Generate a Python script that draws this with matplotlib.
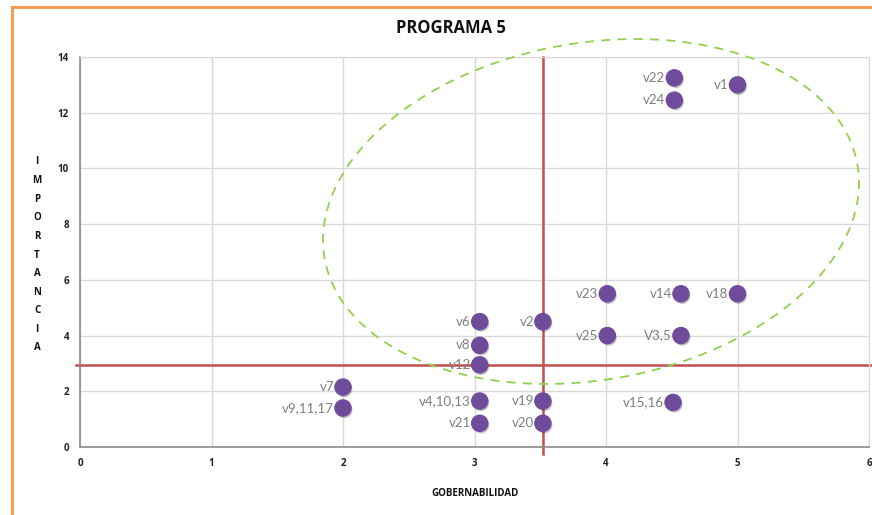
import matplotlib
matplotlib.use("Agg")
import matplotlib.pyplot as plt
import matplotlib.patheffects as pe
from matplotlib.patches import Ellipse
from matplotlib.lines import Line2D

# data
labels = ["v22", "v24", "v1", "v23", "v14", "v18", "v25", "V3,5", "v15,16",
          "v6", "v8", "v12", "v2", "v7", "v9,11,17", "v4,10,13", "v21", "v19", "v20"]
gobernabilidad = [4.52, 4.52, 5.0, 4.01, 4.57, 5.0, 4.01, 4.57, 4.51,
                  3.04, 3.04, 3.04, 3.52, 2.0, 2.0, 3.04, 3.04, 3.52, 3.52]
importancia = [13.25, 12.45, 13.0, 5.5, 5.5, 5.5, 4.0, 4.0, 1.6,
               4.5, 3.65, 2.95, 4.5, 2.15, 1.4, 1.65, 0.85, 1.65, 0.85]

corte_x = 3.52   # vertical red line
corte_y = 2.95   # horizontal red line

x_ticks = [0, 1, 2, 3, 4, 5, 6]
y_ticks = [0, 2, 4, 6, 8, 10, 12, 14]

W, H = 872, 515
fig = plt.figure(figsize=(W / 100, H / 100), dpi=100)
ax = fig.add_axes([80 / W, 68 / H, 789 / W, 390 / H])

ax.set_xlim(0, 6)
ax.set_ylim(0, 14)
ax.set_xticks(x_ticks)
ax.set_yticks(y_ticks)
ax.grid(True, color="#D9D9D9", linewidth=1.0)
ax.set_axisbelow(True)
for s in ["top", "right"]:
    ax.spines[s].set_color("#D9D9D9")
for s in ["left", "bottom"]:
    ax.spines[s].set_color("#8C8C8C")
    ax.spines[s].set_linewidth(1.2)
ax.tick_params(length=0, labelsize=7, colors="#222222", pad=8)
for t in ax.get_xticklabels() + ax.get_yticklabels():
    t.set_fontweight("bold")
    t.set_family("Open Sans")

# red reference lines
ax.plot([corte_x, corte_x], [-0.25, 14], color="#C0504D", lw=1.8, clip_on=False, zorder=2)
ax.plot([-0.03, 6.1], [corte_y, corte_y], color="#C0504D", lw=1.8, clip_on=False, zorder=2)

# points
ax.scatter(gobernabilidad, importancia, s=135, color="#6F4C9B", zorder=4,
           path_effects=[pe.SimplePatchShadow(offset=(1, -1.5), alpha=0.25), pe.Normal()])
for lab, x, y in zip(labels, gobernabilidad, importancia):
    ax.annotate(lab, (x, y), xytext=(-6.5, 0), textcoords="offset points",
                ha="right", va="center", fontsize=9.5, color="#7F7F7F",
                family="Lato", zorder=5)

# dashed green ellipse (drawn in inches on the figure)
ell = Ellipse((5.91, 3.035), 5.41, 3.37, angle=10, transform=fig.dpi_scale_trans,
              fill=False, edgecolor="#92D050", lw=1.3, linestyle=(0, (5, 4)))
fig.patches.append(ell)

# titles
fig.text(451 / W, 1 - 28 / H, "PROGRAMA 5", ha="center", va="center",
         fontsize=12, fontweight="bold", family="Open Sans", color="#111111")
fig.text(475 / W, 1 - 494 / H, "GOBERNABILIDAD", ha="center", va="center",
         fontsize=7, fontweight="bold", family="Open Sans", color="#111111")
for i, ch in enumerate("IMPORTANCIA"):
    fig.text(37 / W, 1 - (162 + i * 18.6) / H, ch, ha="center", va="center",
             fontsize=7, fontweight="bold", family="Open Sans", color="#111111")

# orange frame (left and top)
fig.add_artist(Line2D([12 / W, 12 / W], [0, 1 - 7 / H], transform=fig.transFigure,
                      color="#F79646", lw=2))
fig.add_artist(Line2D([12 / W, 1], [1 - 7 / H, 1 - 7 / H], transform=fig.transFigure,
                      color="#F79646", lw=2))

fig.savefig("out.png", dpi=100)
